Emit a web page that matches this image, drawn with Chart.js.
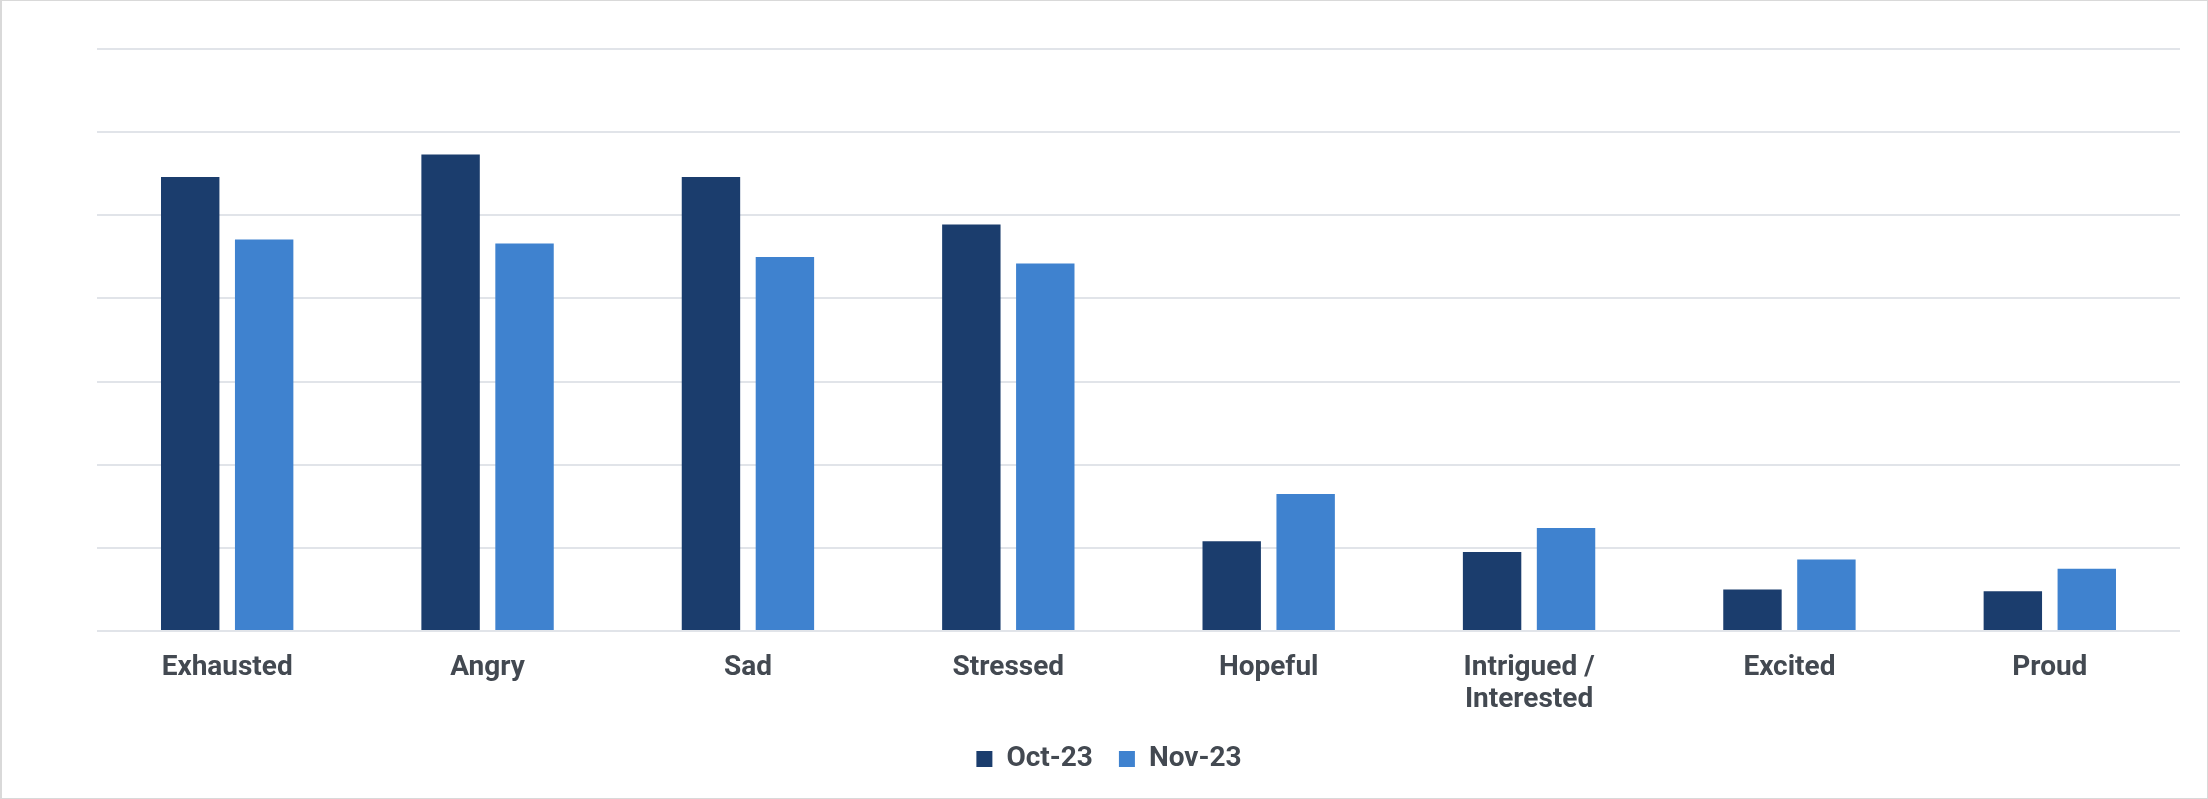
<!DOCTYPE html>
<html>
<head>
<meta charset="utf-8">
<title>Emotions — Oct-23 vs Nov-23</title>
<script src="https://cdn.jsdelivr.net/npm/chart.js@4.4.1/dist/chart.umd.min.js"></script>
<style>
  html, body { margin: 0; padding: 0; background: #ffffff; }
  #frame {
    position: relative;
    width: 2208px;
    height: 799px;
    box-shadow: inset 2px 0 0 #d9d9d9, inset 0 0 0 1px #d9d9d9;
  }
  #frame canvas { position: absolute; left: 0; top: 0; }
</style>
</head>
<body>
<div id="frame"><canvas id="chart" width="2208" height="799"></canvas></div>
<script>
// Emotion categories (multi-line label as an array)
const categories = ['Exhausted', 'Angry', 'Sad', 'Stressed', 'Hopeful', ['Intrigued /', 'Interested'], 'Excited', 'Proud'];

// Share of respondents (%) per wave
const oct23 = [54.6, 57.3, 54.6, 48.9, 10.8, 9.5, 5.0, 4.8];
const nov23 = [47.1, 46.6, 45.0, 44.2, 16.5, 12.4, 8.6, 7.5];

const seriesNames = ['Oct-23', 'Nov-23'];

// Value axis range (gridlines every 10 points, labels hidden)
const yMin = 0;
const yMax = 70;
const yStep = 10;

const textColor = '#434951';
const gridColor = '#e1e4e9';
const fontFamily = 'Roboto, "Liberation Sans", sans-serif';

new Chart(document.getElementById('chart'), {
  type: 'bar',
  data: {
    labels: categories,
    datasets: [
      {
        label: seriesNames[0],
        data: oct23,
        backgroundColor: '#1b3d6d',
        categoryPercentage: 0.568,
        barPercentage: 0.79
      },
      {
        label: seriesNames[1],
        data: nov23,
        backgroundColor: '#3f82cf',
        categoryPercentage: 0.568,
        barPercentage: 0.79
      }
    ]
  },
  options: {
    responsive: false,
    animation: false,
    devicePixelRatio: 1,
    layout: {
      padding: { top: 49, left: 10, right: 0, bottom: 16 }
    },
    scales: {
      x: {
        grid: { display: false, drawTicks: false },
        border: { display: false },
        ticks: {
          color: textColor,
          font: { family: fontFamily, size: 28, weight: 'bold', lineHeight: 1.15 },
          padding: 20.5,
          maxRotation: 0,
          autoSkip: false
        },
        // tighten the band between the category labels and the legend
        afterFit: (scale) => { scale.height = scale.height - 17.5; }
      },
      y: {
        min: yMin,
        max: yMax,
        grid: { color: gridColor, lineWidth: 2, drawTicks: false },
        border: { display: false },
        ticks: { display: false, stepSize: yStep },
        // blank gutter to the left of the plot
        afterFit: (scale) => { scale.width = 87; }
      },
      yRight: {
        position: 'right',
        min: yMin,
        max: yMax,
        grid: { display: false, drawTicks: false },
        border: { display: false },
        ticks: { display: false },
        // blank gutter to the right of the plot
        afterFit: (scale) => { scale.width = 28; }
      }
    },
    plugins: {
      legend: {
        position: 'bottom',
        labels: {
          color: textColor,
          font: { family: fontFamily, size: 28, weight: 'bold' },
          boxWidth: 16,
          boxHeight: 16,
          padding: 26
        }
      },
      tooltip: { enabled: false }
    }
  }
});
</script>
</body>
</html>
